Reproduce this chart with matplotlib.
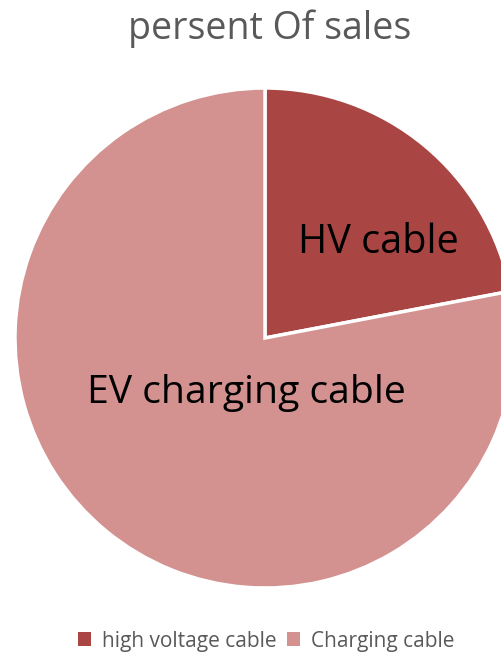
import matplotlib
matplotlib.use("Agg")
import matplotlib.pyplot as plt
from matplotlib.patches import Patch

title = "persent Of sales"
categories = ["high voltage cable", "Charging cable"]
inner_labels = ["HV cable", "EV charging cable"]
values = [22, 78]
colors = ["#A94543", "#D39190"]

plt.rcParams['font.family'] = ['Open Sans', 'DejaVu Sans']

fig = plt.figure(figsize=(5.02, 6.54), dpi=100)
ax = fig.add_axes([0, 0, 1, 1])

wedges, _ = ax.pie(values, colors=colors, startangle=90, counterclock=False,
                   center=(265, 316), radius=250, frame=True,
                   wedgeprops=dict(edgecolor='white', linewidth=2.5))
ax.set_xlim(0, 502)
ax.set_ylim(0, 654)
ax.set_aspect('equal')
ax.axis('off')

ax.text(378, 654 - 243, inner_labels[0], ha='center', va='center', fontsize=28.5, color='black')
ax.text(246, 654 - 393, inner_labels[1], ha='center', va='center', fontsize=28.2, color='black')

ax.text(270, 654 - 29, title, ha='center', va='center', fontsize=27, color='#595959')

handles = [Patch(facecolor=c, edgecolor='none') for c in colors]
fig.legend(handles, categories, loc='center', bbox_to_anchor=(266/502, 1 - 641/654),
           ncol=2, frameon=False, fontsize=15, labelcolor='#595959',
           handlelength=0.65, handleheight=0.65, handletextpad=0.5, columnspacing=0.5)

fig.savefig("out.png", dpi=100)
